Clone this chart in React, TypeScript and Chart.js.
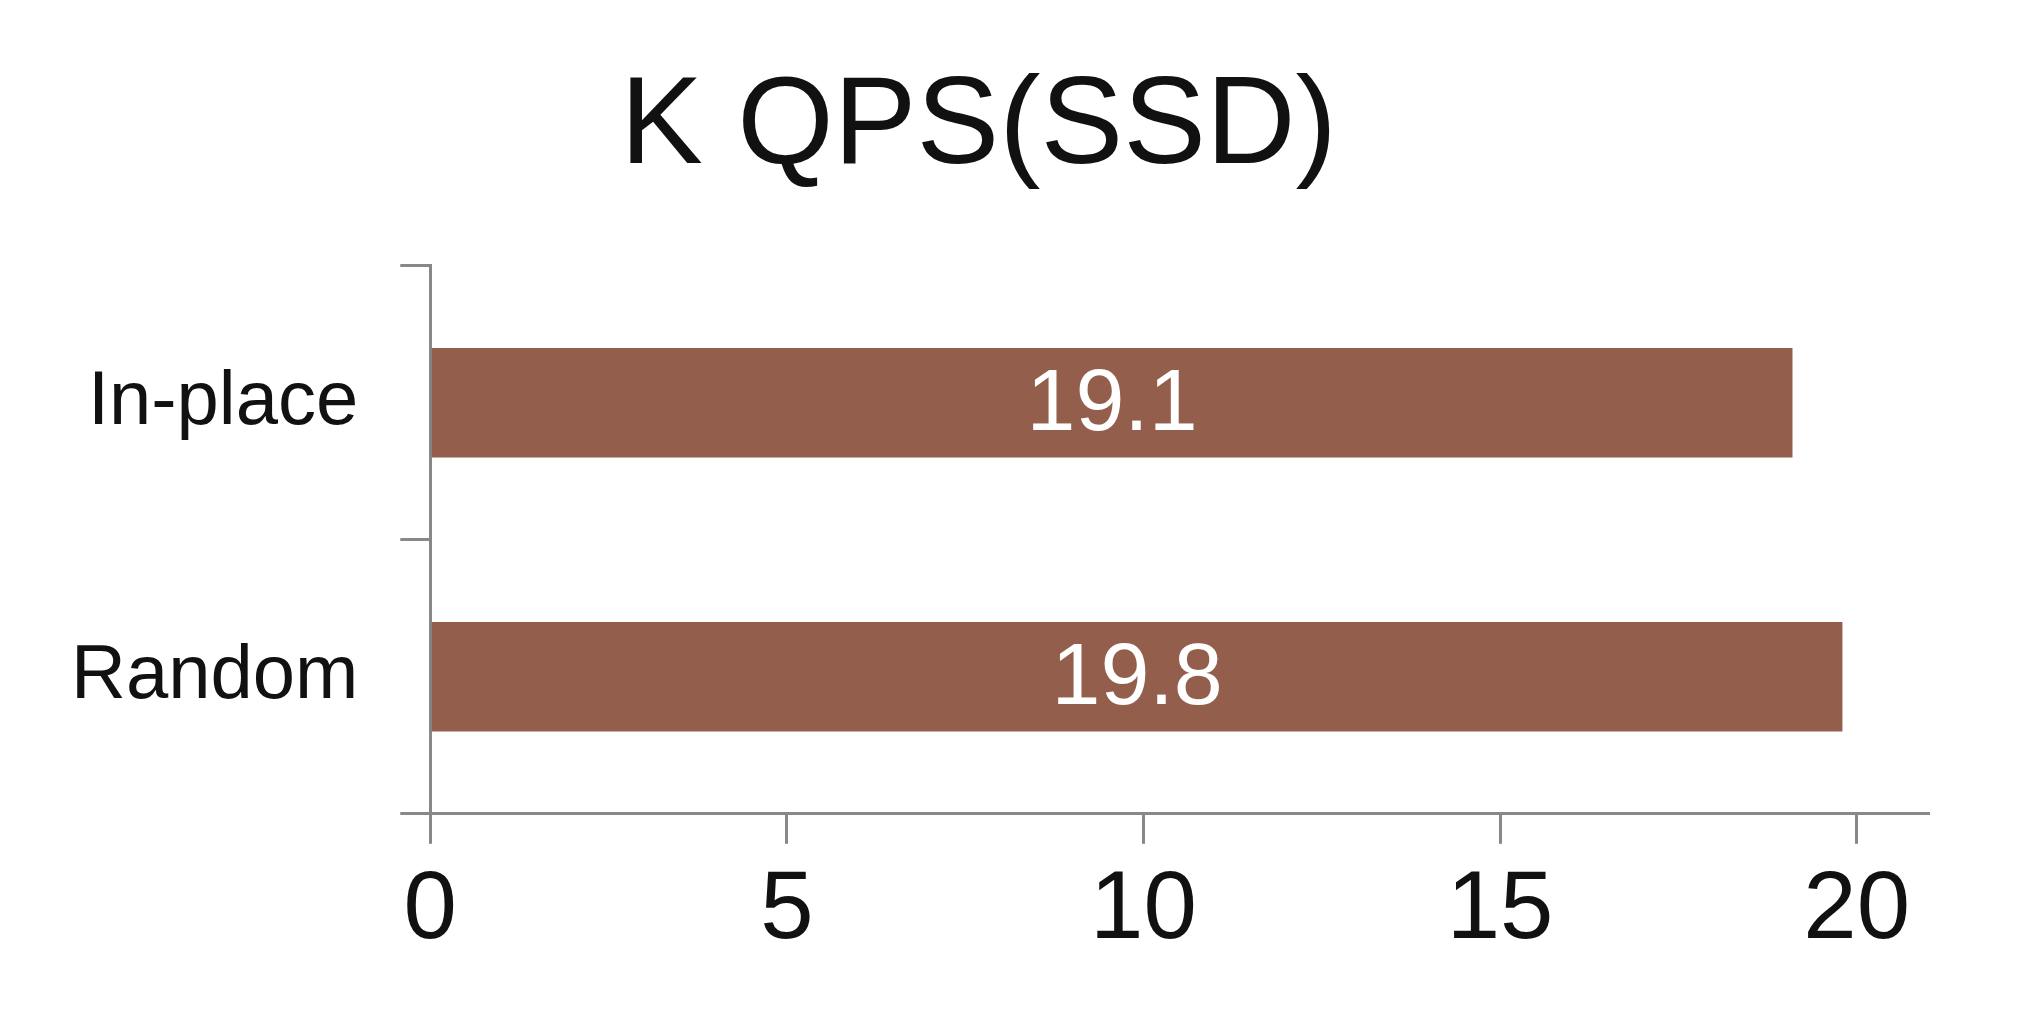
import React, { useEffect, useRef } from "react";
import { Chart, registerables } from "chart.js";
Chart.register(...registerables);

const categories = ["In-place", "Random"];
const values = [19.1, 19.8];
const xTicks = [0, 5, 10, 15, 20];
const title = "K QPS(SSD)";

const FONT = "'Liberation Sans', Arial, sans-serif";

const labelPlugin = {
  id: "barLabels",
  afterDatasetsDraw(chart: any) {
    const ctx = chart.ctx;
    const meta = chart.getDatasetMeta(0);
    ctx.save();
    ctx.fillStyle = "#ffffff";
    ctx.font = `88px ${FONT}`;
    ctx.textAlign = "center";
    ctx.textBaseline = "middle";
    meta.data.forEach((bar: any, i: number) => {
      const x = (bar.x + bar.base) / 2;
      ctx.fillText(values[i].toFixed(1), x, bar.y + 3);
    });
    ctx.restore();
  },
};

export default function App() {
  const ref = useRef<HTMLCanvasElement>(null);
  useEffect(() => {
    const chart = new Chart(ref.current!, {
      type: "bar",
      data: {
        labels: categories,
        datasets: [{ data: values, backgroundColor: "#935f4c", barPercentage: 0.4, categoryPercentage: 1 }],
      },
      options: {
        indexAxis: "y",
        animation: false,
        responsive: false,
        layout: { padding: { top: 14, right: 99, bottom: 56, left: 29 } },
        plugins: {
          legend: { display: false },
          tooltip: { enabled: false },
          title: {
            display: true,
            text: title,
            color: "#111",
            font: { family: FONT, size: 124, weight: "normal" },
            padding: { top: 40, bottom: 63 },
          },
        },
        scales: {
          x: {
            min: 0,
            max: 21,
            afterBuildTicks: (s: any) => { s.ticks = xTicks.map((v) => ({ value: v })); },
            grid: { drawOnChartArea: false, color: "#888", tickLength: 30, lineWidth: 3 },
            border: { color: "#888", width: 3 },
            ticks: { color: "#111", font: { family: FONT, size: 96 }, padding: 10 },
          },
          y: {
            grid: { drawOnChartArea: false, offset: true, color: "#888", tickLength: 30, lineWidth: 3 },
            border: { color: "#888", width: 3 },
            ticks: { color: "#111", font: { family: FONT, size: 76 }, padding: 42 },
          },
        },
      },
      plugins: [labelPlugin],
    });
    return () => chart.destroy();
  }, []);
  return (
    <div style={{ position: "absolute", left: 0, top: 0, width: 2027, height: 1035, background: "#fff" }}>
      <canvas ref={ref} width={2027} height={1035} />
    </div>
  );
}
